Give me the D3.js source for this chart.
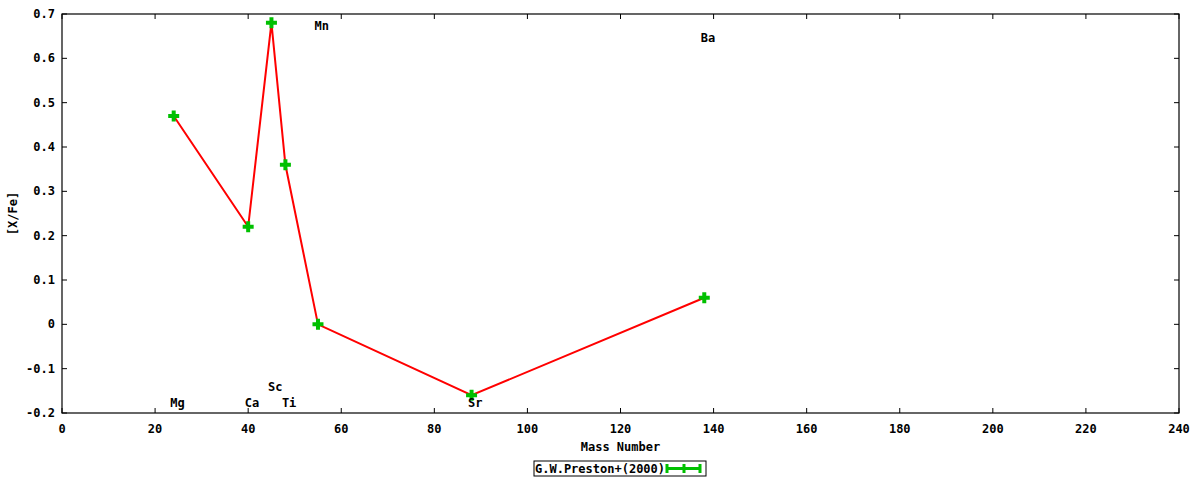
<!DOCTYPE html>
<html><head><meta charset="utf-8">
<script src="https://cdn.jsdelivr.net/npm/d3@7"></script>
<style>
body{margin:0;background:#fff;}
text{font-family:"DejaVu Sans Mono",monospace;font-weight:bold;font-size:12px;fill:#000;}
</style></head>
<body><svg id="c" width="1200" height="480"></svg>
<script>
const elements = ["Mg","Ca","Sc","Ti","Mn","Sr","Ba"];
const massNumbers = [24, 40, 45, 48, 55, 88, 138];
const xfeValues = [0.47, 0.22, 0.68, 0.36, 0.0, -0.16, 0.06];
const labelX = [24.8, 40.8, 45.8, 48.8, 55.8, 88.8, 138.8];
const labelY = [-0.178, -0.178, -0.142, -0.178, 0.672, -0.178, 0.645];
const xTicks = [0,20,40,60,80,100,120,140,160,180,200,220,240];
const yTicks = [-0.2,-0.1,0,0.1,0.2,0.3,0.4,0.5,0.6,0.7];
const seriesName = "G.W.Preston+(2000)";

const svg = d3.select("#c");
const L=62, R=1179, T=14, B=413;
const x = d3.scaleLinear().domain([0,240]).range([L,R]);
const y = d3.scaleLinear().domain([-0.2,0.7]).range([B,T]);
const fmtY = v => v===0 ? "0" : d3.format(".1f")(v).replace("−","-");

// ticks
const tl = 5;
const g = svg.append("g");
xTicks.forEach(t=>{
  g.append("line").attr("x1",x(t)).attr("x2",x(t)).attr("y1",B).attr("y2",B-tl).attr("stroke","#000");
  g.append("line").attr("x1",x(t)).attr("x2",x(t)).attr("y1",T).attr("y2",T+tl).attr("stroke","#000");
  g.append("text").attr("x",x(t)).attr("y",B+20).attr("text-anchor","middle").text(t);
});
yTicks.forEach(t=>{
  g.append("line").attr("x1",L).attr("x2",L+tl).attr("y1",y(t)).attr("y2",y(t)).attr("stroke","#000");
  g.append("line").attr("x1",R).attr("x2",R-tl).attr("y1",y(t)).attr("y2",y(t)).attr("stroke","#000");
  g.append("text").attr("x",L-7).attr("y",y(t)+4).attr("text-anchor","end").text(fmtY(t));
});
svg.append("rect").attr("x",L).attr("y",T).attr("width",R-L).attr("height",B-T)
  .attr("fill","none").attr("stroke","#000").attr("stroke-width",1.2);

// axis titles
svg.append("text").attr("x",(L+R)/2).attr("y",451).attr("text-anchor","middle").text("Mass Number");
svg.append("text").attr("transform",`translate(17,${(T+B)/2}) rotate(-90)`).attr("text-anchor","middle").text("[X/Fe]");

// line
const pts = massNumbers.map((m,i)=>[m,xfeValues[i]]);
svg.append("path").datum(pts)
  .attr("d",d3.line().x(d=>x(d[0])).y(d=>y(d[1])))
  .attr("fill","none").attr("stroke","#ff0000").attr("stroke-width",2);

// markers
const plus = (sel,cx,cy)=>{
  sel.append("path").attr("d",`M${cx-5.5},${cy}H${cx+5.5}M${cx},${cy-5.5}V${cy+5.5}`)
    .attr("stroke","#00c000").attr("stroke-width",4).attr("fill","none");
};
pts.forEach(p=>plus(svg,x(p[0]),y(p[1])));

// element labels
elements.forEach((e,i)=>{
  svg.append("text").attr("x",x(labelX[i])).attr("y",y(labelY[i])+4).attr("text-anchor","middle").text(e);
});

// legend
const lg = svg.append("g");
lg.append("rect").attr("x",534).attr("y",461).attr("width",172).attr("height",15)
  .attr("fill","#fff").attr("stroke","#000").attr("stroke-width",1);
lg.append("text").attr("x",535).attr("y",472.5).text(seriesName);
lg.append("path").attr("d","M667,468.5H700M667,464V473M700,464V473M684,464V473")
  .attr("stroke","#00c000").attr("stroke-width",3).attr("fill","none");
</script></body></html>
